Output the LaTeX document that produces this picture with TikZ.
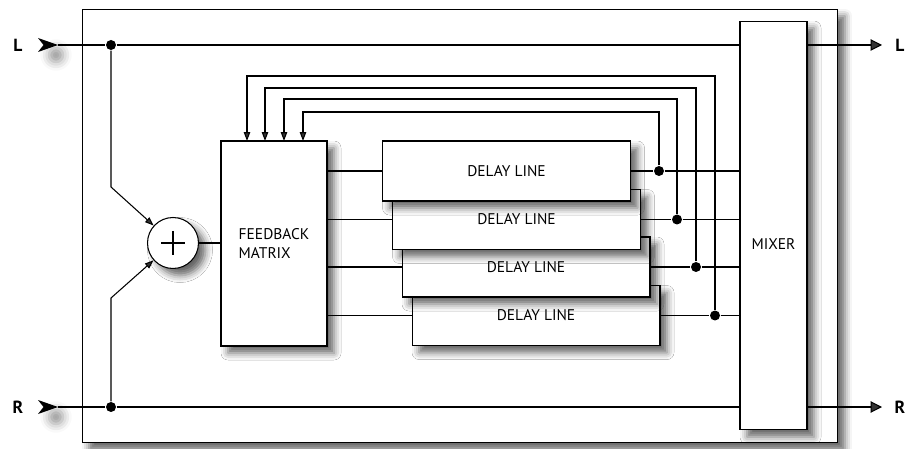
\documentclass[tikz,border=0pt]{standalone}
\usepackage{fontspec}
\setmainfont{PT Sans}
\usetikzlibrary{arrows.meta,positioning,shadows.blur}

\begin{document}
\begin{tikzpicture}[
    x=0.02cm, y=-0.02cm, line width=0.6pt,
    box/.style={draw, fill=white, inner sep=0pt, font=\fontsize{8.8}{11}\selectfont,
        blur shadow={shadow xshift=4pt, shadow yshift=-4pt, shadow blur radius=4pt, shadow opacity=60}},
    delay/.style={box, minimum width=4.96cm, minimum height=1.2cm},
    dot/.style={circle, fill, inner sep=0pt, minimum size=0.2cm},
    io/.style={font=\fontsize{10}{12}\selectfont\bfseries},
    fb/.style={-{Triangle[length=5pt,width=3.6pt]}},
    outarrow/.style={-{Triangle[length=6.5pt,width=6.5pt]}},
    shade/.style={blur shadow={shadow xshift=0pt, shadow yshift=0pt, shadow blur radius=5pt, shadow opacity=40}}
]
    \useasboundingbox (0,0) rectangle (913,449);

    % soft shadows under the in markers
    \path[shade] (56,55) circle (7);
    \path[shade] (56,417) circle (7);

    % housing and the blocks inside
    \node[box, minimum width=15.12cm, minimum height=8.68cm] (unit) at (460,226) {};
    \node[box, minimum width=1.34cm, minimum height=8.18cm] (mixer) at (773.5,225.5) {};
    \node[font=\fontsize{8.8}{11}\selectfont] (mixlabel) at ([yshift=-0.38cm]mixer.center) {MIXER};
    \node[box, minimum width=2.12cm, minimum height=4.1cm, align=left] (fbm) at (274,243.5) {FEEDBACK\\MATRIX};
    \node[box, circle, minimum size=1.02cm,
        path picture={\draw (path picture bounding box.center) +(-12,0) -- +(12,0) +(0,-12) -- +(0,12);}] (sum) at (173,243) {};

    % delay lines, back to front
    \node[delay] (dl4) at (536,315.5) {DELAY LINE};
    \node[delay] (dl3) at (526,267) {DELAY LINE};
    \node[delay] (dl2) at (516.5,219.5) {DELAY LINE};
    \node[delay] (dl1) at (506.5,171) {DELAY LINE};

    % taps
    \node[dot] (tap1) at (659,171) {};
    \node[dot] (tap2) at (677,219.5) {};
    \node[dot] (tap3) at (696,267) {};
    \node[dot] (tap4) at (715,315.5) {};
    \coordinate (fb1) at (303,141);
    \coordinate (fb2) at (284,141);
    \coordinate (fb3) at (265,141);
    \coordinate (fb4) at (247,141);

    % inputs
    \node[io] (lin) at (18,45) {L};
    \node[io] (rin) at (18,407) {R};
    \coordinate (lport) at (58,45);
    \coordinate (rport) at (58,407);
    \node[dot] (ldot) at (111,45) {};
    \node[dot] (rdot) at (111,407) {};
    \coordinate (lbend) at (111,187);
    \coordinate (rbend) at (111,298);

    % outputs
    \coordinate (lend) at (882,45);
    \coordinate (rend) at (882,407);
    \node[io] (lout) at (900,45) {L};
    \node[io] (rout) at (900,407) {R};

    % input chevrons
    \fill (lport) -- ++(-20,-7) -- ++(5.5,7) -- ++(-5.5,7) -- cycle;
    \fill (rport) -- ++(-20,-7) -- ++(5.5,7) -- ++(-5.5,7) -- cycle;

    \draw (lport) -- (ldot) -- (mixer.west |- ldot);
    \draw (rport) -- (rdot) -- (mixer.west |- rdot);
    \draw[fb] (ldot) -- (lbend) -- (sum);
    \draw[fb] (rdot) -- (rbend) -- (sum);
    \draw (sum) -- (fbm.west |- sum);

    \draw (fbm.east |- dl1) -- (dl1);
    \draw (fbm.east |- dl2) -- (dl2);
    \draw (fbm.east |- dl3) -- (dl3);
    \draw (fbm.east |- dl4) -- (dl4);

    \draw (dl1) -- (tap1) -- (mixer.west |- tap1);
    \draw (dl2) -- (tap2) -- (mixer.west |- tap2);
    \draw (dl3) -- (tap3) -- (mixer.west |- tap3);
    \draw (dl4) -- (tap4) -- (mixer.west |- tap4);

    % feedback paths
    \draw[fb] (tap1) -- ++(0,-59) -| (fb1);
    \draw[fb] (tap2) -- ++(0,-120.5) -| (fb2);
    \draw[fb] (tap3) -- ++(0,-179) -| (fb3);
    \draw[fb] (tap4) -- ++(0,-239.5) -| (fb4);

    \draw[outarrow] (mixer.east |- ldot) -- (lend);
    \draw[outarrow] (mixer.east |- rdot) -- (rend);
\end{tikzpicture}
\end{document}
